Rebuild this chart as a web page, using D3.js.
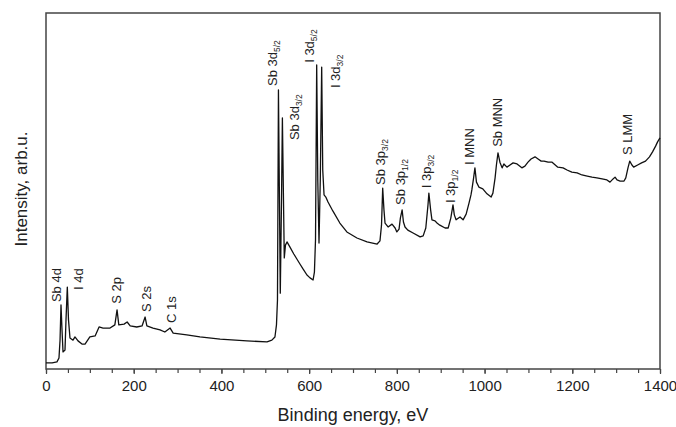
<!DOCTYPE html>
<html>
<head>
<meta charset="utf-8">
<script src="https://cdn.jsdelivr.net/npm/d3@7"></script>
<style>
  body { margin: 0; background: #fff; }
  text { font-family: Arial, "Liberation Sans", sans-serif; fill: #222; }
</style>
</head>
<body>
<script>
// survey spectrum, binding energy (eV) vs intensity (arb. units, 0-100)
let energy = [0,14,25,29.6,32,34.2,36.5,38.8,43.3,45.6,48.6,51.3,54.7,61.6,66.1,73,82,89,100,112,121,130,146,157,162,166,178,185,192,207,219,226,230,244,260,271,283,290,321,351,397,458,504,515,522,525.5,527.8,530,532.3,534.2,537,539,541.5,543.3,546,549.5,556,565,572,579,586,595,602,609,612,614.5,617.2,619.7,622.5,625.4,628.6,631,634,638,643,654,670,686,709,732,755,761.5,765,767.7,770.6,773,780,789,796,800,805,808,812,815,818.6,825,837,853,860,866,871,873,877,880,887,891.5,898,910,917,923,928,931,935,944,951,958,964.5,969,971,975,978,981.5,987,996,1005.5,1015,1019,1024,1027,1030.6,1035,1040,1044,1051,1058,1065,1074,1085,1092,1099,1106,1115,1122,1129,1135.5,1145,1154,1167,1179,1188,1199,1211,1222,1234,1245,1256,1268,1279,1286,1293,1297.5,1302,1309,1318,1322,1327,1331,1336,1340,1349,1358,1367,1376,1383,1390,1394.5,1400];
let intensity = [1.7,1.7,2.0,3.1,8.1,18.0,11.0,4.8,5.3,13.8,23.0,13.8,8.7,8.1,9.0,7.9,7.0,7.0,9.0,9.3,11.8,11.5,11.5,12.4,16.6,12.4,12.6,13.2,12.1,11.8,12.1,14.6,12.1,11.5,11.0,10.4,11.5,10.1,9.6,9.0,8.4,7.9,7.6,8.1,9.0,12.4,19.4,78.4,47.5,21.3,47.5,70.5,47.5,31.2,34.8,35.7,34.3,32.3,30.9,29.5,28.1,26.4,25.6,25.0,27.2,36.2,85.4,53.1,35.4,53.1,84.8,55.9,48.9,48.3,46.9,44.4,41.0,38.5,36.8,35.7,35.1,36.0,40.4,50.8,44.7,41.0,39.9,40.7,39.6,38.5,39.3,42.4,44.7,41.3,39.9,39.0,38.2,37.1,37.4,39.6,46.1,49.4,44.7,41.9,41.6,41.0,40.4,39.6,39.6,42.4,46.1,43.3,41.9,42.7,41.9,43.5,46.6,48.9,50.3,53.7,56.5,52.5,51.1,50.6,49.2,48.3,49.4,53.7,57.3,60.7,58.1,56.5,57.6,56.7,57.3,57.9,57.6,56.5,57.0,58.1,59.0,59.6,59.0,58.4,58.4,58.1,58.1,56.7,56.5,55.9,55.3,55.1,54.5,54.2,53.9,53.7,53.4,53.1,52.5,53.4,53.9,53.1,52.8,52.8,53.7,56.5,58.4,57.3,56.7,57.3,57.9,58.4,59.6,61.0,62.6,63.8,64.9];

// peak annotations: label, subscript, anchor energy, anchor intensity
let peakNames = ["Sb 4d","I 4d","S 2p","S 2s","C 1s","Sb 3d","Sb 3d","I 3d","I 3d","Sb 3p","Sb 3p","I 3p","I 3p","I MNN","Sb MNN","S LMM"];
let peakSubs = ["","","","","","5/2","3/2","5/2","3/2","3/2","1/2","3/2","1/2","","",""];
let peakE = [34,84,171,240,296,527,577,611,670,773,819,878,933,976,1040,1336];
let peakI = [18.8,22.2,18.3,16.0,12.9,79.5,64.3,86.0,78.9,51.7,46.1,50.8,46.6,57.3,62.4,60.1];

let xTicks = [0,200,400,600,800,1000,1200,1400];

let margin = {left: 46, right: 16, top: 13, bottom: 58};
let w = 676 - margin.left - margin.right;
let h = 427 - margin.top - margin.bottom;

let svg = d3.select("body").append("svg").attr("width",676).attr("height",427);
let g = svg.append("g").attr("transform","translate("+margin.left+","+margin.top+")");

let x = d3.scaleLinear().domain([0,1400]).range([0,w]);
let y = d3.scaleLinear().domain([0,100]).range([h,0]);

// minor ticks every 50 eV
let xMinor = d3.axisBottom(x).tickValues(d3.range(0,1401,50)).tickSize(4).tickFormat("");
g.append("g").attr("transform","translate(0,"+h+")").call(xMinor)
  .call(a => a.select(".domain").remove())
  .selectAll("line").attr("stroke","#444").attr("stroke-width",1.2);

let xAxis = d3.axisBottom(x).tickValues(xTicks).tickSize(5).tickPadding(6).tickFormat(d3.format("d"));
let xg = g.append("g").attr("transform","translate(0,"+h+")").call(xAxis);
xg.select(".domain").remove();
xg.selectAll("line").attr("stroke","#444").attr("stroke-width",1.2);
xg.selectAll("text").attr("font-size",15).attr("font-family","Arial, 'Liberation Sans', sans-serif").attr("fill","#222");

// frame
g.append("rect").attr("width",w).attr("height",h)
  .attr("fill","none").attr("stroke","#444").attr("stroke-width",1.5);

let data = energy.map((e,i)=>({e:e, v:intensity[i]}));
let line = d3.line().x(d=>x(d.e)).y(d=>y(d.v));
g.append("path").datum(data)
  .attr("d",line).attr("fill","none").attr("stroke","#111").attr("stroke-width",1.3)
  .attr("stroke-linejoin","round");

// rotated peak labels
peakNames.forEach((n,i)=>{
  let t = g.append("text")
    .attr("transform","translate("+x(peakE[i])+","+y(peakI[i])+") rotate(-90)")
    .attr("font-size",13);
  t.append("tspan").text(n);
  if (peakSubs[i]) t.append("tspan").attr("font-size",8.5).attr("dy",3).text(peakSubs[i]);
});

svg.append("text").attr("x",353).attr("y",421).attr("text-anchor","middle")
  .attr("font-size",18).text("Binding energy, eV");
svg.append("text").attr("transform","translate(27,189) rotate(-90)").attr("text-anchor","middle")
  .attr("font-size",17).text("Intensity, arb.u.");
</script>
</body>
</html>
